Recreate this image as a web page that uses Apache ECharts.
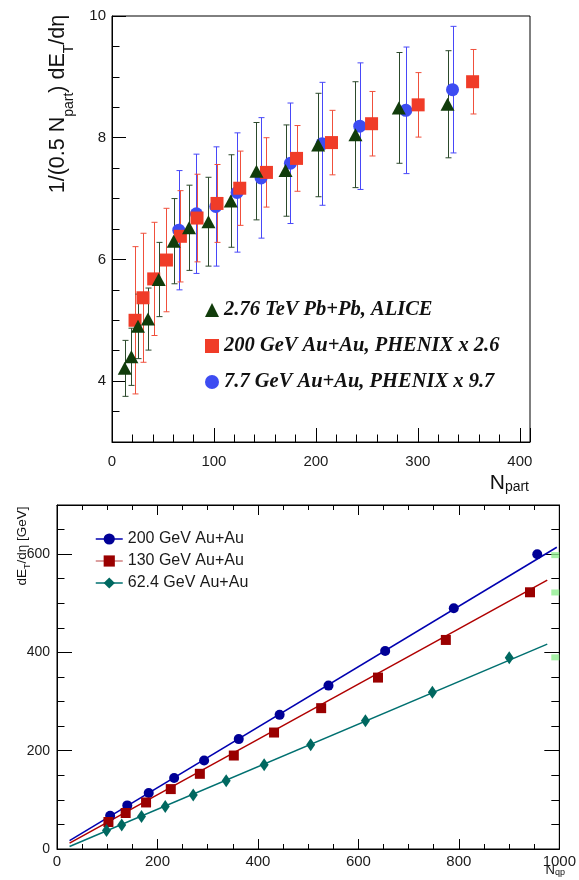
<!DOCTYPE html>
<html><head><meta charset="utf-8">
<script src="https://cdn.jsdelivr.net/npm/echarts@6/dist/echarts.min.js"></script>
<style>html,body{margin:0;padding:0;background:#fff}#c{width:579px;height:880px}</style>
</head><body><div id="c"></div>
<script>
// ---- Top panel: 1/(0.5 Npart) dET/deta vs Npart ----
const aliceNpart = [12.5, 19, 25.5, 35.3, 45.8, 60.5, 75.6, 94.6, 116.5, 141.7, 170.2, 202.2, 238.8, 281.3, 329.1];
const aliceVal   = [4.21, 4.40, 4.90, 5.02, 5.67, 6.30, 6.52, 6.62, 6.96, 7.45, 7.46, 7.88, 8.05, 8.49, 8.55];
const aliceErr   = [0.46, 0.47, 0.53, 0.51, 0.61, 0.70, 0.70, 0.73, 0.76, 0.80, 0.75, 0.85, 0.87, 0.91, 0.88];

const phx200Npart = [22.6, 30.4, 40.9, 53.4, 67.1, 83.4, 103, 125.3, 151.5, 181, 215.3, 254.6, 300.3, 353.7];
const phx200Val   = [5.00, 5.37, 5.68, 5.99, 6.38, 6.68, 6.92, 7.17, 7.43, 7.66, 7.92, 8.23, 8.54, 8.92];
const phx200Err   = [1.21, 1.06, 0.93, 0.85, 0.75, 0.72, 0.64, 0.61, 0.57, 0.54, 0.53, 0.53, 0.53, 0.53];

const phx77Npart = [65.5, 82.8, 101.8, 122.7, 146.2, 175, 206, 243, 288.2, 334];
const phx77Val   = [6.48, 6.75, 6.87, 7.10, 7.34, 7.58, 7.90, 8.19, 8.45, 8.79];
const phx77Err   = [0.98, 0.98, 0.98, 0.98, 0.99, 0.99, 1.01, 1.04, 1.04, 1.04];

const topNames = ['2.76 TeV Pb+Pb, ALICE', '200 GeV Au+Au, PHENIX x 2.6', '7.7 GeV Au+Au, PHENIX x 9.7'];

// ---- Bottom panel: dET/deta vs Nqp ----
const au200Nqp = [105.8, 139.9, 182.6, 233.2, 292.9, 361.8, 443.2, 540.5, 653.3, 789.9, 956.1];
const au200Et  = [67.7, 88.7, 113.8, 144.3, 180.1, 223.6, 273, 332.5, 403, 489.8, 599.6];
const au130Nqp = [102.4, 136.7, 177.3, 226.5, 284.4, 352, 432.1, 525.9, 639, 774.1, 941.6];
const au130Et  = [54.9, 73.2, 94.7, 121.9, 153, 190.2, 237, 286.6, 348.8, 425.4, 522.4];
const au62Nqp  = [98.5, 128.8, 168.2, 215.5, 271.2, 336.8, 412.4, 505, 614, 747.3, 900.3];
const au62Et   = [37.8, 48.8, 66.3, 86.6, 109.8, 138.8, 171.3, 212, 260.8, 319.1, 389.4];

const fit200X = [25, 995], fit200Y = [17, 614];
const fit130X = [25, 976], fit130Y = [12, 547];
const fit62X  = [25, 976], fit62Y  = [5, 417];

const edgeMarkX = [992, 992, 992];
const edgeMarkY = [598, 522, 390];

const bottomNames = ['200 GeV Au+Au', '130 GeV Au+Au', '62.4 GeV Au+Au'];

// ---- helpers ----
const pairs = (xs, ys) => xs.map((x, i) => [x, ys[i]]);
const errData = (xs, ys, es) => xs.map((x, i) => [x, ys[i] - es[i], ys[i] + es[i]]);
function errRender(color) {
  return function (params, api) {
    const x = api.value(0);
    const pLo = api.coord([x, api.value(1)]);
    const pHi = api.coord([x, api.value(2)]);
    const cx = Math.round(pLo[0]) + 0.5;
    const cap = 3;
    const st = { stroke: color, lineWidth: 1 };
    return { type: 'group', children: [
      { type: 'line', shape: { x1: cx, y1: pHi[1], x2: cx, y2: pLo[1] }, style: st },
      { type: 'line', shape: { x1: cx - cap, y1: pHi[1], x2: cx + cap, y2: pHi[1] }, style: st },
      { type: 'line', shape: { x1: cx - cap, y1: pLo[1], x2: cx + cap, y2: pLo[1] }, style: st }
    ]};
  };
}
const SANS = 'Liberation Sans';
const plain = (v) => String(v);
const axisBase = (o) => Object.assign({
  type: 'value',
  splitLine: { show: false },
  axisLine: { show: true, onZero: false, lineStyle: { color: '#000', width: 1 } },
  axisTick: { show: true, inside: true, lineStyle: { color: '#000', width: 1 } },
  minorTick: { show: true, lineStyle: { color: '#000', width: 1 } },
  axisLabel: { fontFamily: SANS, color: '#1a1a1a' }
}, o);

const chart = echarts.init(document.getElementById('c'), null, { renderer: 'canvas' });

const option = {
  animation: false,
  backgroundColor: '#fff',
  grid: [
    { left: 112, top: 16, right: 49, bottom: 438, show: true, borderColor: '#000', borderWidth: 1, backgroundColor: 'transparent' },
    { left: 57, top: 505, right: 14, bottom: 31, show: true, borderColor: '#000', borderWidth: 1, backgroundColor: 'transparent' }
  ],
  xAxis: [
    axisBase({ gridIndex: 0, min: 0, max: 410, interval: 100,
      axisTick: { show: true, inside: true, length: 14, lineStyle: { color: '#000' } },
      minorTick: { show: true, splitNumber: 5, length: 7.5, lineStyle: { color: '#000' } },
      axisLabel: { fontFamily: SANS, color: '#1a1a1a', fontSize: 15, margin: 12, showMaxLabel: false, formatter: plain } }),
    axisBase({ gridIndex: 1, min: 0, max: 1000, interval: 200, position: 'bottom',
      axisTick: { show: true, inside: true, length: 10, lineStyle: { color: '#000' } },
      minorTick: { show: true, splitNumber: 4, length: 5, lineStyle: { color: '#000' } },
      axisLabel: { fontFamily: SANS, color: '#1a1a1a', fontSize: 15, margin: 5, formatter: plain } }),
    axisBase({ gridIndex: 1, min: 0, max: 1000, interval: 200, position: 'top',
      axisTick: { show: true, inside: true, length: 10, lineStyle: { color: '#000' } },
      minorTick: { show: true, splitNumber: 4, length: 5, lineStyle: { color: '#000' } },
      axisLabel: { show: false } })
  ],
  yAxis: [
    axisBase({ gridIndex: 0, min: 3, max: 10, minInterval: 2, maxInterval: 2, splitNumber: 4,
      axisTick: { show: true, inside: true, length: 14, lineStyle: { color: '#000' } },
      minorTick: { show: true, splitNumber: 4, length: 7.5, lineStyle: { color: '#000' } },
      axisLabel: { fontFamily: SANS, color: '#1a1a1a', fontSize: 15, margin: 6, showMinLabel: false, formatter: plain } }),
    axisBase({ gridIndex: 1, min: 0, max: 700, interval: 200, position: 'left',
      axisTick: { show: true, inside: true, length: 15, lineStyle: { color: '#000' } },
      minorTick: { show: true, splitNumber: 4, length: 7.5, lineStyle: { color: '#000' } },
      axisLabel: { fontFamily: SANS, color: '#1a1a1a', fontSize: 14, margin: 7, showMaxLabel: false, formatter: plain } }),
    axisBase({ gridIndex: 1, min: 0, max: 700, interval: 200, position: 'right',
      axisTick: { show: true, inside: true, length: 15, lineStyle: { color: '#000' } },
      minorTick: { show: true, splitNumber: 4, length: 8, lineStyle: { color: '#000' } },
      axisLabel: { show: false } })
  ],
  legend: [
    { orient: 'vertical', left: 205, top: 300, padding: 0, itemWidth: 14, itemHeight: 14, itemGap: 16,
      data: topNames, selectedMode: false,
      textStyle: { fontFamily: 'Liberation Serif', fontStyle: 'italic', fontWeight: 'bold', fontSize: 20.5, color: '#111' } },
    { orient: 'vertical', left: 95, top: 531, padding: 0, itemWidth: 27, itemHeight: 14, itemGap: 6, selectedMode: false,
      data: [
        { name: bottomNames[0], lineStyle: { opacity: 1, width: 1.5, color: '#0000b0' } },
        { name: bottomNames[1], lineStyle: { opacity: 1, width: 1.5, color: '#d08080' } },
        { name: bottomNames[2], lineStyle: { opacity: 1, width: 1.5, color: '#007070' } }
      ],
      textStyle: { fontFamily: SANS, fontSize: 16, color: '#1a1a1a' } }
  ],
  graphic: [
    { type: 'text', x: 58, y: 104, rotation: Math.PI / 2,
      style: { text: '1/(0.5 N{s|part}) dE{s|T}/dη', fontFamily: SANS, fontSize: 21.5, lineHeight: 37, fill: '#111',
        align: 'center', verticalAlign: 'middle',
        rich: { s: { fontFamily: SANS, fontSize: 14, lineHeight: 14, verticalAlign: 'bottom', fill: '#111' } } } },
    { type: 'text', x: 529, y: 483,
      style: { text: 'N{s|part}', fontFamily: SANS, fontSize: 21, lineHeight: 22, fill: '#111',
        align: 'right', verticalAlign: 'middle',
        rich: { s: { fontFamily: SANS, fontSize: 14, lineHeight: 14, verticalAlign: 'bottom', fill: '#111' } } } },
    { type: 'text', x: 22, y: 546, rotation: Math.PI / 2,
      style: { text: 'dE{s|T}/dη [GeV]', fontFamily: SANS, fontSize: 13.5, lineHeight: 20, fill: '#111',
        align: 'center', verticalAlign: 'middle',
        rich: { s: { fontFamily: SANS, fontSize: 9, lineHeight: 9, verticalAlign: 'bottom', fill: '#111' } } } },
    { type: 'text', x: 565, y: 870,
      style: { text: 'N{s|qp}', fontFamily: SANS, fontSize: 13, lineHeight: 14, fill: '#111',
        align: 'right', verticalAlign: 'middle',
        rich: { s: { fontFamily: SANS, fontSize: 9, lineHeight: 9, verticalAlign: 'bottom', fill: '#111' } } } }
  ],
  series: [
    { type: 'custom', xAxisIndex: 0, yAxisIndex: 0, z: 1, silent: true, encode: { x: 0, y: [1, 2] },
      renderItem: errRender('#4848f8'), data: errData(phx77Npart, phx77Val, phx77Err) },
    { type: 'custom', xAxisIndex: 0, yAxisIndex: 0, z: 1, silent: true, encode: { x: 0, y: [1, 2] },
      renderItem: errRender('#f0503c'), data: errData(phx200Npart, phx200Val, phx200Err) },
    { type: 'custom', xAxisIndex: 0, yAxisIndex: 0, z: 1, silent: true, encode: { x: 0, y: [1, 2] },
      renderItem: errRender('#2c4a2c'), data: errData(aliceNpart, aliceVal, aliceErr) },
    { name: topNames[2], type: 'scatter', xAxisIndex: 0, yAxisIndex: 0, z: 2, symbol: 'circle', symbolSize: 13,
      itemStyle: { color: '#3d4cf2', opacity: 1 }, data: pairs(phx77Npart, phx77Val) },
    { name: topNames[1], type: 'scatter', xAxisIndex: 0, yAxisIndex: 0, z: 3, symbol: 'rect', symbolSize: 13,
      itemStyle: { color: '#f03c28', opacity: 1 }, data: pairs(phx200Npart, phx200Val) },
    { name: topNames[0], type: 'scatter', xAxisIndex: 0, yAxisIndex: 0, z: 4, symbol: 'triangle', symbolSize: [14, 13],
      itemStyle: { color: '#113c0b', opacity: 1 }, data: pairs(aliceNpart, aliceVal) },

    { type: 'line', xAxisIndex: 1, yAxisIndex: 1, symbol: 'none', silent: true, z: 2,
      lineStyle: { color: '#0000b0', width: 1.5 }, data: pairs(fit200X, fit200Y) },
    { type: 'line', xAxisIndex: 1, yAxisIndex: 1, symbol: 'none', silent: true, z: 2,
      lineStyle: { color: '#b00000', width: 1.5 }, data: pairs(fit130X, fit130Y) },
    { type: 'line', xAxisIndex: 1, yAxisIndex: 1, symbol: 'none', silent: true, z: 2,
      lineStyle: { color: '#007070', width: 1.5 }, data: pairs(fit62X, fit62Y) },
    { name: bottomNames[0], type: 'line', xAxisIndex: 1, yAxisIndex: 1, z: 3, symbol: 'circle', symbolSize: 10, showSymbol: true,
      lineStyle: { opacity: 0 }, itemStyle: { color: '#000096' }, data: pairs(au200Nqp, au200Et) },
    { name: bottomNames[1], type: 'line', xAxisIndex: 1, yAxisIndex: 1, z: 3, symbol: 'rect', symbolSize: 10, showSymbol: true,
      lineStyle: { opacity: 0 }, itemStyle: { color: '#9a0000' }, data: pairs(au130Nqp, au130Et) },
    { name: bottomNames[2], type: 'line', xAxisIndex: 1, yAxisIndex: 1, z: 3, symbol: 'diamond', symbolSize: [9, 13], showSymbol: true,
      lineStyle: { opacity: 0 }, itemStyle: { color: '#006860' }, data: pairs(au62Nqp, au62Et) },
    { type: 'scatter', xAxisIndex: 1, yAxisIndex: 1, z: 1, symbol: 'rect', symbolSize: [8, 6], silent: true,
      itemStyle: { color: '#90ee90' }, data: pairs(edgeMarkX, edgeMarkY) }
  ]
};
chart.setOption(option);
</script>
</body></html>
